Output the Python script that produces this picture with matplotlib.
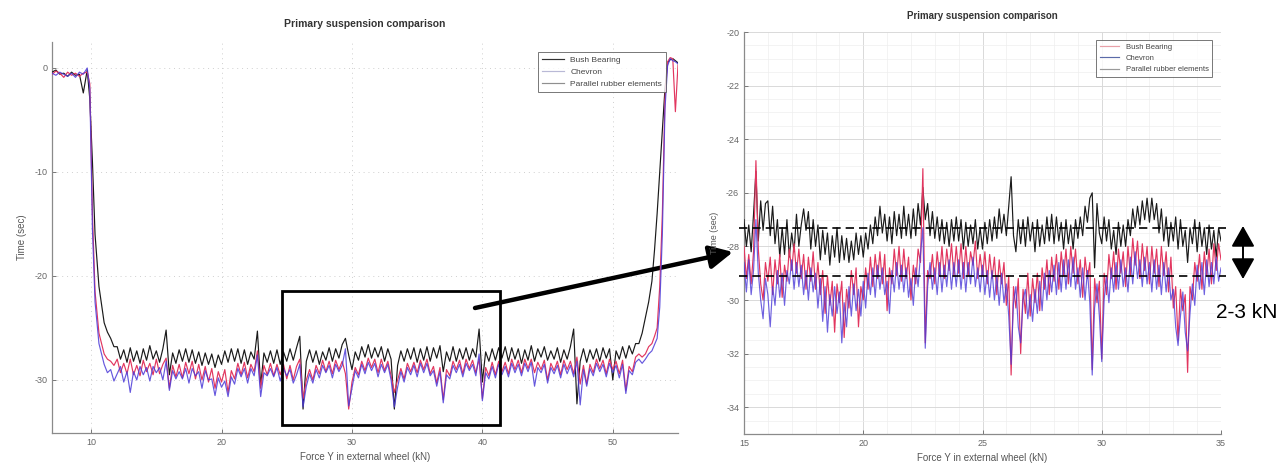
import matplotlib
matplotlib.use("Agg")
import matplotlib.pyplot as plt
from matplotlib.patches import Rectangle
from matplotlib.ticker import MultipleLocator

plt.rcParams['font.family'] = ['Liberation Sans', 'DejaVu Sans']
plt.rcParams['axes.unicode_minus'] = False

# ---------------- data: left panel (full range) ----------------
x_left = [7.0, 7.3, 7.6, 7.9, 8.2, 8.5, 8.8, 9.1, 9.4, 9.7, 9.9, 10.1, 10.3, 10.6, 11.0, 11.25, 11.5, 11.75,
          12.0, 12.25, 12.5, 12.75, 13.0, 13.25, 13.5, 13.75,
          14.0, 14.25, 14.5, 14.75, 15.0, 15.25, 15.5, 15.75,
          16.0, 16.25, 16.5, 16.75, 17.0, 17.25, 17.5, 17.75,
          18.0, 18.25, 18.5, 18.75, 19.0, 19.25, 19.5, 19.75,
          20.0, 20.25, 20.5, 20.75, 21.0, 21.25, 21.5, 21.75,
          22.0, 22.25, 22.5, 22.75, 23.0, 23.25, 23.5, 23.75,
          24.0, 24.25, 24.5, 24.75, 25.0, 25.25, 25.5, 25.75,
          26.0, 26.25, 26.5, 26.75, 27.0, 27.25, 27.5, 27.75,
          28.0, 28.25, 28.5, 28.75, 29.0, 29.25, 29.5, 29.75,
          30.0, 30.25, 30.5, 30.75, 31.0, 31.25, 31.5, 31.75,
          32.0, 32.25, 32.5, 32.75, 33.0, 33.25, 33.5, 33.75,
          34.0, 34.25, 34.5, 34.75, 35.0, 35.25, 35.5, 35.75,
          36.0, 36.25, 36.5, 36.75, 37.0, 37.25, 37.5, 37.75,
          38.0, 38.25, 38.5, 38.75, 39.0, 39.25, 39.5, 39.75,
          40.0, 40.25, 40.5, 40.75, 41.0, 41.25, 41.5, 41.75,
          42.0, 42.25, 42.5, 42.75, 43.0, 43.25, 43.5, 43.75,
          44.0, 44.25, 44.5, 44.75, 45.0, 45.25, 45.5, 45.75,
          46.0, 46.25, 46.5, 46.75, 47.0, 47.25, 47.5, 47.75,
          48.0, 48.25, 48.5, 48.75, 49.0, 49.25, 49.5, 49.75,
          50.0, 50.25, 50.5, 50.75, 51.0, 51.25, 51.5, 51.75,
          52.0,
          52.25, 52.5, 52.75, 53.0, 53.2, 53.4, 53.6, 53.8, 54.0, 54.2, 54.4, 54.6, 54.8, 55.0]

black_left = [-0.4, -0.2, -0.6, -0.5, -0.8, -0.4, -0.7, -0.6, -2.4, -0.2, -3.0, -9.0, -16.0, -21.0, -24.5, -25.4, -26.0, -26.8,
              -26.8, -28.0, -27.1, -28.3, -26.9, -28.2, -27.2, -28.4,
              -27.0, -28.1, -26.7, -28.0, -27.2, -28.3, -27.0, -25.2,
              -29.5, -27.4, -28.4, -27.1, -28.2, -27.0, -28.3, -27.1,
              -28.4, -27.3, -28.6, -27.4, -28.5, -27.5, -28.8, -27.6,
              -28.5, -27.2, -28.3, -27.0, -28.2, -27.0, -28.4, -27.1,
              -28.5, -27.3, -28.0, -25.3, -30.5, -27.4, -28.3, -27.2,
              -28.4, -27.1, -28.5, -27.3, -28.2, -27.0, -28.1, -26.9,
              -25.8, -32.8, -28.2, -27.1, -28.3, -27.2, -28.5, -27.3,
              -28.1, -26.9, -28.2, -27.0, -27.9, -26.6, -26.0, -27.6,
              -29.0, -27.3, -28.1, -26.8, -27.8, -26.6, -27.9, -26.9,
              -27.8, -26.8, -28.2, -27.0, -28.0, -32.8, -28.6, -27.2,
              -28.2, -27.0, -28.0, -26.9, -28.3, -27.0, -28.1, -26.8,
              -28.2, -26.9, -27.9, -26.7, -29.2, -27.3, -28.2, -26.8,
              -28.2, -27.0, -28.0, -26.9, -28.1, -27.0, -27.8, -25.1,
              -30.2, -27.3, -28.2, -27.0, -28.1, -26.9, -27.9, -26.8,
              -28.2, -26.9, -28.0, -27.0, -28.4, -27.1, -28.1, -26.7,
              -28.2, -27.0, -27.8, -26.8, -28.1, -27.2, -28.0, -26.9,
              -28.3, -27.1, -28.0, -26.8, -25.1, -32.3, -28.2, -27.0,
              -28.3, -27.1, -28.0, -27.0, -28.2, -26.9, -27.9, -27.0,
              -30.0, -27.2, -28.0, -26.8, -27.9, -26.7, -27.5, -26.5,
              -26.5,
              -25.5, -24.0, -22.5, -20.5, -17.5, -14.0, -10.0, -6.0, -2.0, 0.5, 0.8, 0.9, 0.7, 0.5]

red_left = [-0.6, -0.3, -0.5, -0.9, -0.4, -0.7, -0.5, -0.8, -0.5, -0.4, -1.5, -14.0, -21.5, -25.5, -27.5, -28.0, -28.2, -28.6,
            -28.0, -29.3, -28.4, -29.4, -28.0, -29.5, -28.6, -29.6,
            -28.1, -29.2, -28.4, -29.5, -28.0, -29.4, -28.5, -27.9,
            -30.8, -28.6, -29.7, -28.5, -29.8, -28.3, -29.4, -28.2,
            -29.9, -28.5, -30.0, -28.7, -30.2, -28.9, -30.8, -29.2,
            -30.2, -29.0, -31.2, -29.1, -29.9, -28.4, -29.5, -28.3,
            -29.8, -28.5, -29.2, -27.2, -30.8, -28.6, -29.5, -28.4,
            -29.6, -28.5, -29.5, -28.5, -29.9, -28.6, -30.0, -28.7,
            -28.0, -31.8, -30.0, -29.0, -30.0, -28.6, -29.4, -28.1,
            -29.2, -28.2, -29.4, -28.1, -29.0, -28.2, -29.4, -32.8,
            -30.2, -28.8, -29.5, -28.2, -29.1, -27.9, -28.8, -28.0,
            -29.3, -28.0, -29.1, -28.2, -29.6, -31.2, -30.0, -28.9,
            -29.9, -28.4, -29.2, -28.3, -29.3, -28.1, -29.0, -28.0,
            -29.4, -28.7, -30.3, -28.8, -31.9, -29.0, -29.6, -28.2,
            -29.0, -28.1, -29.4, -28.0, -28.9, -28.1, -29.3, -28.0,
            -31.8, -28.8, -29.6, -28.3, -29.5, -28.2, -29.2, -28.3,
            -29.4, -28.0, -29.0, -28.1, -29.3, -28.0, -28.9, -28.0,
            -29.3, -28.3, -29.0, -28.1, -30.0, -28.4, -29.1, -28.2,
            -29.5, -28.1, -29.0, -28.2, -29.4, -27.8, -30.4, -28.6,
            -30.4, -28.5, -29.3, -28.0, -28.9, -28.1, -29.4, -28.0,
            -29.0, -28.2, -29.4, -28.1, -31.0, -28.7, -29.2, -27.8,
            -27.5,
            -27.8, -27.5, -26.8, -26.5, -25.8, -25.0, -21.0, -14.0, -3.0, 0.6, 1.0, 0.9, -4.2, 0.3]

blue_left = [-0.5, -0.7, -0.4, -0.6, -0.8, -0.5, -0.9, -0.4, -0.6, 0.0, -2.0, -15.5, -22.5, -26.5, -28.5, -29.3, -29.0, -30.1,
             -29.4, -28.7, -30.2, -29.2, -31.2, -29.2, -30.0, -28.7,
             -29.5, -28.8, -30.1, -28.7, -29.3, -28.8, -30.0, -28.2,
             -31.0, -29.1, -29.9, -29.2, -29.9, -28.9, -30.3, -28.9,
             -29.6, -29.2, -30.8, -29.1, -30.0, -29.9, -31.5, -29.8,
             -30.7, -30.1, -31.6, -29.7, -30.4, -28.9, -29.7, -28.9,
             -30.3, -28.9, -29.6, -27.6, -31.6, -29.3, -29.6, -28.9,
             -29.7, -28.8, -30.1, -28.9, -29.6, -29.0, -30.3, -29.5,
             -28.5, -32.6, -30.6, -29.4, -30.3, -29.0, -29.8, -28.6,
             -29.3, -28.6, -29.8, -28.5, -29.2, -28.6, -27.0, -32.5,
             -30.8, -29.1, -29.8, -28.5, -29.4, -28.3, -29.1, -28.4,
             -29.7, -28.5, -29.3, -28.5, -30.0, -32.6, -30.7, -29.2,
             -30.2, -28.8, -29.5, -28.6, -29.7, -28.4, -29.3, -28.4,
             -29.6, -29.1, -30.6, -29.2, -32.2, -29.5, -29.9, -28.6,
             -29.3, -28.5, -29.7, -28.4, -29.1, -28.5, -29.6, -27.5,
             -32.0, -29.3, -29.9, -28.7, -29.8, -28.5, -29.5, -28.7,
             -29.7, -28.4, -29.3, -28.5, -29.6, -28.4, -29.2, -28.3,
             -30.6, -28.8, -29.3, -28.5, -30.3, -28.8, -29.4, -28.6,
             -29.8, -28.5, -29.4, -28.6, -29.7, -28.2, -32.4, -29.0,
             -30.6, -28.9, -29.6, -28.4, -29.2, -28.5, -29.7, -28.4,
             -29.3, -28.6, -29.8, -28.5, -31.3, -29.1, -29.5, -28.3,
             -28.0,
             -28.4, -28.0, -27.5, -27.2, -26.6, -26.0, -23.0, -16.0, -4.0, 0.2, 0.9, 0.7, 0.6, 0.4]

# ---------------- data: right panel (zoom) ----------------
x_right = [15.0, 15.1, 15.2, 15.3, 15.4, 15.5, 15.6, 15.7, 15.8, 15.9,
           16.0, 16.1, 16.2, 16.3, 16.4, 16.5, 16.6, 16.7, 16.8, 16.9,
           17.0, 17.1, 17.2, 17.3, 17.4, 17.5, 17.6, 17.7, 17.8, 17.9,
           18.0, 18.1, 18.2, 18.3, 18.4, 18.5, 18.6, 18.7, 18.8, 18.9,
           19.0, 19.1, 19.2, 19.3, 19.4, 19.5, 19.6, 19.7, 19.8, 19.9,
           20.0, 20.1, 20.2, 20.3, 20.4, 20.5, 20.6, 20.7, 20.8, 20.9,
           21.0, 21.1, 21.2, 21.3, 21.4, 21.5, 21.6, 21.7, 21.8, 21.9,
           22.0, 22.1, 22.2, 22.3, 22.4, 22.5, 22.6, 22.7, 22.8, 22.9,
           23.0, 23.1, 23.2, 23.3, 23.4, 23.5, 23.6, 23.7, 23.8, 23.9,
           24.0, 24.1, 24.2, 24.3, 24.4, 24.5, 24.6, 24.7, 24.8, 24.9,
           25.0, 25.1, 25.2, 25.3, 25.4, 25.5, 25.6, 25.7, 25.8, 25.9,
           26.0, 26.1, 26.2, 26.3, 26.4, 26.5, 26.6, 26.7, 26.8, 26.9,
           27.0, 27.1, 27.2, 27.3, 27.4, 27.5, 27.6, 27.7, 27.8, 27.9,
           28.0, 28.1, 28.2, 28.3, 28.4, 28.5, 28.6, 28.7, 28.8, 28.9,
           29.0, 29.1, 29.2, 29.3, 29.4, 29.5, 29.6, 29.7, 29.8, 29.9,
           30.0, 30.1, 30.2, 30.3, 30.4, 30.5, 30.6, 30.7, 30.8, 30.9,
           31.0, 31.1, 31.2, 31.3, 31.4, 31.5, 31.6, 31.7, 31.8, 31.9,
           32.0, 32.1, 32.2, 32.3, 32.4, 32.5, 32.6, 32.7, 32.8, 32.9,
           33.0, 33.1, 33.2, 33.3, 33.4, 33.5, 33.6, 33.7, 33.8, 33.9,
           34.0, 34.1, 34.2, 34.3, 34.4, 34.5, 34.6, 34.7, 34.8, 34.9,
           35.0]

black_right = [-27.0, -28.0, -27.2, -28.2, -26.8, -25.2, -27.8, -26.3, -27.4, -26.4,
               -26.3, -27.6, -26.5, -27.9, -27.0, -28.4, -27.3, -28.3, -27.0, -28.4,
               -27.5, -28.2, -26.8, -28.0, -27.2, -26.6, -27.4, -26.7, -28.1, -27.0,
               -28.0, -27.2, -28.5, -27.4, -28.3, -27.5, -28.7, -27.6, -28.4, -27.3,
               -28.6, -27.6, -28.5, -27.7, -28.6, -27.8, -28.5, -27.5, -28.3, -27.6,
               -28.4, -27.5, -28.1, -27.2, -27.9, -26.9, -27.6, -26.5, -27.5, -26.8,
               -27.8, -26.9, -27.9, -26.7, -27.6, -26.8, -27.7, -26.5, -27.6, -26.8,
               -27.7, -26.6, -27.6, -26.4, -27.2, -25.8, -27.0, -26.4, -27.6, -26.7,
               -27.7, -26.9, -27.8, -27.0, -27.9, -27.1, -28.0, -27.0, -27.8, -26.9,
               -27.8, -27.0, -28.1, -27.1, -28.0, -27.2, -27.9, -27.0, -28.1, -27.3,
               -28.1, -27.1, -27.9, -27.0, -27.8, -26.9, -27.7, -26.6, -27.5, -26.8,
               -27.6, -26.5, -25.4, -27.6, -28.2, -27.0, -27.9, -27.0, -28.0, -26.9,
               -27.8, -27.1, -28.2, -27.0, -28.0, -27.2, -27.9, -26.9, -27.8, -26.8,
               -27.9, -26.9, -27.8, -27.1, -28.1, -27.0, -27.9, -27.2, -28.1, -27.0,
               -27.7, -26.9, -27.6, -26.5, -27.1, -26.2, -26.0, -28.8, -26.4, -27.5,
               -27.9, -26.9, -27.8, -27.0, -28.1, -27.4, -28.3, -27.1, -28.0, -27.2,
               -28.0, -27.0, -27.6, -26.6, -27.3, -26.5, -27.2, -26.3, -27.0, -26.2,
               -27.1, -26.2, -27.0, -26.4, -27.5, -26.6, -27.8, -26.9, -28.0, -27.1,
               -27.8, -26.9, -28.1, -27.0, -28.0, -27.4, -28.6, -27.3, -27.9, -27.0,
               -28.2, -27.1, -28.0, -27.3, -28.3, -27.2, -28.1, -27.4, -28.4, -27.3,
               -27.8]

red_right = [-28.0, -29.2, -28.3, -29.4, -28.2, -24.8, -28.1, -29.4, -30.0, -28.6,
             -29.3, -28.4, -29.8, -28.5, -29.4, -28.3, -29.9, -28.7, -29.3, -28.1,
             -28.9, -27.9, -29.0, -28.1, -29.2, -28.3, -29.6, -28.4, -29.3, -28.2,
             -29.6, -28.6, -29.8, -28.9, -30.5, -29.1, -30.2, -29.3, -31.2, -29.4,
             -30.1, -29.3, -31.4, -29.6, -30.3, -28.9, -29.8, -28.8, -31.0, -29.5,
             -30.0, -28.8, -29.6, -28.4, -29.5, -28.3, -29.2, -28.2, -29.4, -28.3,
             -30.4, -28.8, -29.4, -28.1, -29.1, -28.0, -29.3, -28.1, -29.2, -28.4,
             -30.0, -28.7, -29.4, -28.1, -28.6, -25.1, -31.6, -28.9, -29.2, -28.3,
             -29.4, -28.2, -29.1, -28.0, -29.2, -28.1, -28.9, -27.9, -29.1, -28.0,
             -29.0, -27.9, -29.2, -28.0, -29.1, -28.2, -28.7, -27.8, -29.2, -28.3,
             -29.1, -28.2, -29.4, -28.3, -29.2, -28.4, -29.8, -28.5, -29.4, -28.6,
             -30.2, -29.1, -32.8, -29.5, -30.3, -29.2, -32.0, -29.6, -30.5, -29.0,
             -30.6, -29.2, -30.1, -29.0, -30.4, -28.8, -29.6, -28.5, -29.8, -28.4,
             -29.3, -28.3, -29.6, -28.2, -29.1, -28.1, -29.4, -28.0, -29.0, -28.1,
             -29.4, -28.5, -29.9, -28.4, -29.2, -28.6, -32.6, -29.2, -30.1, -29.3,
             -32.2, -29.0, -29.8, -28.3, -29.2, -28.2, -29.6, -28.1, -29.0, -28.2,
             -29.5, -28.0, -29.1, -27.7, -28.7, -27.8, -29.2, -27.9, -28.9, -28.0,
             -29.4, -28.0, -29.0, -28.1, -29.5, -28.0, -29.1, -28.2, -29.7, -28.4,
             -30.3, -29.5, -31.5, -29.6, -30.4, -29.8, -32.7, -29.5, -30.0, -28.6,
             -29.3, -28.3, -29.6, -28.2, -29.1, -28.1, -29.4, -27.9, -28.9, -27.9,
             -28.5]

blue_right = [-28.6, -29.7, -28.5, -29.8, -28.9, -27.0, -29.0, -30.0, -30.7, -29.2,
              -29.8, -31.0, -29.5, -30.2, -28.9, -29.9, -29.0, -30.2, -28.9, -29.4,
              -28.5, -29.6, -28.6, -29.5, -28.7, -29.8, -28.9, -30.0, -28.8, -29.7,
              -29.0, -30.3, -29.2, -30.8, -29.5, -31.2, -29.8, -30.6, -29.5, -30.5,
              -29.7, -31.6, -30.1, -31.0, -29.5, -30.6, -29.4, -30.4, -29.6, -30.6,
              -29.3, -30.3, -29.0, -29.8, -28.8, -29.9, -28.7, -29.6, -28.8, -29.8,
              -29.3, -30.5, -28.9, -29.7, -28.6, -29.6, -28.7, -29.7, -28.8, -29.9,
              -29.2, -30.2, -28.8, -29.5, -28.3, -27.3, -31.8, -29.5, -28.6, -29.6,
              -28.8, -29.8, -28.6, -29.7, -28.7, -29.5, -28.5, -29.6, -28.6, -29.5,
              -28.5, -29.6, -28.6, -29.7, -28.6, -29.4, -28.4, -29.5, -28.8, -29.7,
              -28.7, -29.8, -28.9, -29.9, -28.9, -30.0, -29.1, -30.2, -29.0, -30.1,
              -29.4, -30.6, -32.4, -30.1, -29.5, -31.0, -31.6, -30.0, -29.6, -30.7,
              -29.8, -30.8, -29.6, -30.5, -29.3, -30.4, -29.0, -30.0, -28.9, -29.7,
              -28.7, -29.8, -28.6, -29.7, -28.5, -29.6, -28.5, -29.5, -28.4, -29.6,
              -28.8, -29.9, -28.8, -30.0, -28.9, -30.1, -32.8, -30.3, -29.4, -30.6,
              -32.3, -30.0, -29.1, -30.1, -28.8, -29.7, -28.6, -29.6, -28.5, -29.5,
              -28.8, -29.7, -28.4, -29.4, -28.2, -29.2, -28.5, -29.5, -28.4, -29.4,
              -28.6, -29.7, -28.5, -29.6, -28.7, -29.8, -28.6, -29.7, -28.8, -30.0,
              -29.6, -31.0, -31.7, -30.6, -29.7, -31.2, -31.9, -30.5, -29.4, -30.2,
              -28.7, -29.6, -28.6, -29.8, -28.5, -29.5, -28.6, -29.4, -28.4, -29.3,
              -28.8]

series_names = ["Bush Bearing", "Chevron", "Parallel rubber elements"]
title_text = "Primary suspension comparison"
xlabel_text = "Force Y in external wheel (kN)"
ylabel_text = "Time (sec)"
band_levels = [-27.3, -29.1]
annot_text = "2-3 kN"

# ---------------- styling ----------------
C_BLACK = "#1a1a1a"
C_RED = "#e2365f"
C_BLUE = "#4b3ad8"
TICK_C = "#666666"
W, H = 1278, 467

fig = plt.figure(figsize=(W / 100, H / 100), dpi=100)
fig.patch.set_facecolor("white")

axL = fig.add_axes([52 / W, (H - 433) / H, 626 / W, 391 / H])
axR = fig.add_axes([744 / W, (H - 434) / H, 477 / W, 402 / H])


def style_axes(ax):
    for s in ["top", "right"]:
        ax.spines[s].set_visible(False)
    for s in ["left", "bottom"]:
        ax.spines[s].set_color("#8a8a8a")
        ax.spines[s].set_linewidth(0.9)
    ax.tick_params(direction="in", length=3, width=0.7, colors="#777777",
                   labelcolor=TICK_C, labelsize=6.5)
    ax.tick_params(which="minor", length=0)


# ----- left panel -----
lw = 0.85
axL.plot(x_left, black_left, color=C_BLACK, lw=lw, label=series_names[0], zorder=3)
axL.plot(x_left, red_left, color=C_RED, lw=lw, label=series_names[1], zorder=4)
axL.plot(x_left, blue_left, color=C_BLUE, lw=lw, alpha=0.85, label=series_names[2], zorder=5)
axL.set_xlim(7, 55)
axL.set_ylim(-35.1, 2.5)
axL.set_xticks([10, 20, 30, 40, 50])
axL.set_yticks([0, -10, -20, -30])
axL.grid(True, which="major", color="#cfcfcf", linestyle=(0, (1, 4)), linewidth=0.7)
style_axes(axL)
axL.set_title(title_text, fontsize=7.5, fontweight="bold", color="#333333", pad=11)
axL.set_xlabel(xlabel_text, fontsize=7, color="#555555", labelpad=4)
axL.set_ylabel(ylabel_text, fontsize=7, color="#555555", labelpad=5)
legL = axL.legend(loc="upper right", bbox_to_anchor=(0.988, 0.985), fontsize=6,
                  frameon=True, fancybox=False, edgecolor="#555555", handlelength=2.6,
                  borderpad=0.5, labelspacing=0.5)
legL.get_frame().set_linewidth(0.7)
for h, c in zip(legL.get_lines(), ["#333333", "#b9b9d6", "#8f8f8f"]):
    h.set_color(c)
    h.set_alpha(1)
for t in legL.get_texts():
    t.set_color("#444444")

rect = Rectangle((24.6, -34.3), 16.75, 12.9, fill=False, edgecolor="black",
                 linewidth=2, zorder=6)
axL.add_patch(rect)

# ----- right panel -----
axR.plot(x_right, black_right, color=C_BLACK, lw=lw, label=series_names[2], zorder=3)
axR.plot(x_right, red_right, color=C_RED, lw=lw, label=series_names[0], zorder=4)
axR.plot(x_right, blue_right, color=C_BLUE, lw=lw, alpha=0.8, label=series_names[1], zorder=5)
axR.set_xlim(15, 35)
axR.set_ylim(-35, -20)
axR.set_xticks([15, 20, 25, 30, 35])
axR.set_yticks([-20, -22, -24, -26, -28, -30, -32, -34])
axR.xaxis.set_minor_locator(MultipleLocator(1))
axR.yaxis.set_minor_locator(MultipleLocator(0.5))
axR.grid(True, which="major", color="#d9d9d9", linewidth=0.7)
axR.grid(True, which="minor", color="#eeeeee", linewidth=0.5)
style_axes(axR)
axR.set_title(title_text, fontsize=7, fontweight="bold", color="#333333", pad=9.5)
axR.set_xlabel(xlabel_text, fontsize=7, color="#555555", labelpad=4)
axR.set_ylabel(ylabel_text, fontsize=6.5, color="#555555", labelpad=5)
hR = axR.get_lines()
legR = axR.legend([hR[1], hR[2], hR[0]], [series_names[0], series_names[1], series_names[2]],
                  loc="upper right", bbox_to_anchor=(0.99, 0.99), fontsize=5.5,
                  frameon=True, fancybox=False, edgecolor="#555555", handlelength=2.6,
                  borderpad=0.5, labelspacing=0.5)
legR.get_frame().set_linewidth(0.7)
for h, c in zip(legR.get_lines(), ["#e8a0a8", "#5a6aa8", "#9a9a9a"]):
    h.set_color(c)
    h.set_alpha(1)
for t in legR.get_texts():
    t.set_color("#444444")

for lvl in band_levels:
    axR.axhline(lvl, xmin=-0.01, xmax=1.01, color="black", linestyle=(0, (5, 3)),
                linewidth=1.2, clip_on=False, zorder=7)

# ----- annotations in figure pixels -----
axL.annotate("", xy=(733, H - 252), xytext=(475, H - 308),
             xycoords="figure pixels", textcoords="figure pixels",
             arrowprops=dict(arrowstyle="-|>,head_length=0.7,head_width=0.35",
                             color="black", lw=3.2, mutation_scale=20,
                             shrinkA=0, shrinkB=0),
             annotation_clip=False)
axR.annotate("", xy=(1243, H - 226), xytext=(1243, H - 279),
             xycoords="figure pixels", textcoords="figure pixels",
             arrowprops=dict(arrowstyle="<|-|>,head_length=0.8,head_width=0.45",
                             color="black", lw=1.4, mutation_scale=16,
                             shrinkA=0, shrinkB=0),
             annotation_clip=False)
fig.text(1247 / W, (H - 312) / H, annot_text, fontsize=15, ha="center", va="center",
         color="black")

fig.savefig("out.png", dpi=100, facecolor="white")
